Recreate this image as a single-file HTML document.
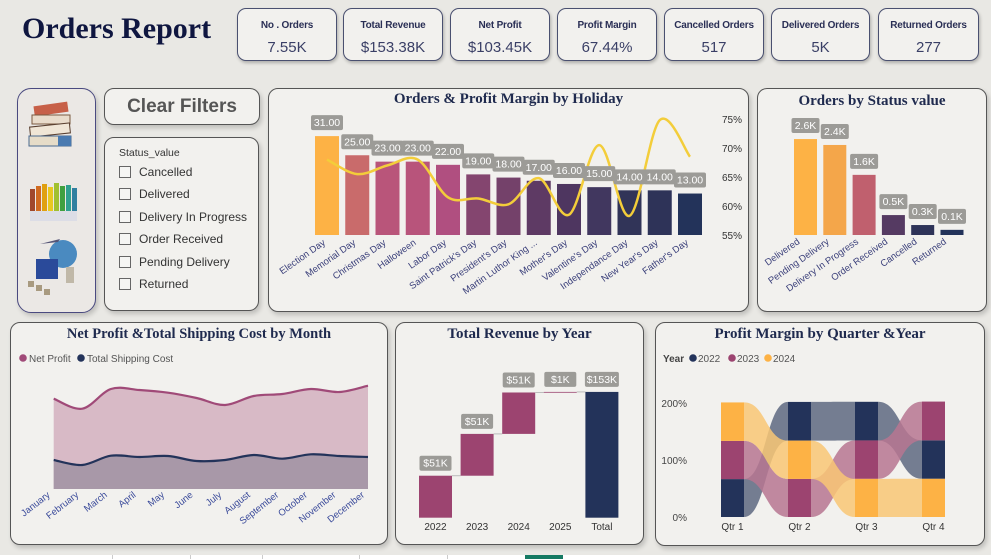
<!DOCTYPE html>
<html><head><meta charset="utf-8">
<style>
*{box-sizing:border-box;margin:0;padding:0}
body{width:991px;height:559px;overflow:hidden;background:#e9e8e4;font-family:"Liberation Sans",sans-serif;position:relative}
.card{position:absolute;background:#f2f1ee;border:1.3px solid #555;border-radius:10px;box-shadow:2px 3px 5px rgba(0,0,0,0.18)}
.kpi{position:absolute;top:8px;height:53px;background:#f2f1ee;border:1.3px solid #4a5070;border-radius:9px;text-align:center;box-shadow:1px 2px 3px rgba(0,0,0,0.25);font-family:"Liberation Sans",sans-serif;color:#2a2f55}
.kpi .t{font-size:10px;font-weight:bold;margin-top:11px;letter-spacing:-0.2px}
.kpi .v{font-size:15px;margin-top:8px;color:#3a3f66}
.title{position:absolute;font-family:"Liberation Serif",serif;font-weight:bold;color:#1f2a4e;font-size:15px;text-align:center}
.slicer-item{position:absolute;left:14px;font-size:12px;color:#333}
.slicer-item span{display:inline-block;width:12px;height:12px;border:1px solid #666;vertical-align:-2px;margin-right:8px;background:#f5f5f3}
#strip{position:absolute;left:0;top:555px;width:991px;height:4px;background:#fff}
</style></head>
<body>
<div style="position:absolute;left:22px;top:12px;font-family:'Liberation Serif',serif;font-weight:bold;font-size:30px;color:#0f1640">Orders Report</div>

<div class="kpi" style="left:237px;width:100px"><div class="t">No . Orders</div><div class="v">7.55K</div></div>
<div class="kpi" style="left:343px;width:100px"><div class="t">Total Revenue</div><div class="v">$153.38K</div></div>
<div class="kpi" style="left:450px;width:100px"><div class="t">Net Profit</div><div class="v">$103.45K</div></div>
<div class="kpi" style="left:557px;width:100px"><div class="t">Profit Margin</div><div class="v">67.44%</div></div>
<div class="kpi" style="left:664px;width:100px"><div class="t">Cancelled Orders</div><div class="v">517</div></div>
<div class="kpi" style="left:771px;width:99px"><div class="t">Delivered Orders</div><div class="v">5K</div></div>
<div class="kpi" style="left:878px;width:101px"><div class="t">Returned Orders</div><div class="v">277</div></div>

<div class="card" style="left:17px;top:88px;width:79px;height:225px;border-color:#4a4a80;border-radius:14px;background:#ebe8e5">
  <svg width="79" height="225">
    <g>
      <rect x="16" y="15" width="34" height="10" fill="#c76048" transform="rotate(-8 33 20)"/>
      <rect x="14" y="26" width="38" height="9" fill="#e9dccb" stroke="#7a5a40"/>
      <rect x="12" y="36" width="40" height="10" fill="#f0e6d6" stroke="#5a4030" transform="rotate(-6 32 41)"/>
      <rect x="11" y="47" width="42" height="10" fill="#e6dcc8" stroke="#4a6a90"/>
      <rect x="40" y="47" width="13" height="10" fill="#4a7ab0"/>
    </g>
    <g>
      <rect x="12" y="100" width="5" height="22" fill="#a0482c"/><rect x="18" y="97" width="5" height="25" fill="#d06a20"/>
      <rect x="24" y="95" width="5" height="27" fill="#e0a010"/><rect x="30" y="98" width="5" height="24" fill="#e8c820"/>
      <rect x="36" y="94" width="5" height="28" fill="#a0c030"/><rect x="42" y="97" width="5" height="25" fill="#40a040"/>
      <rect x="48" y="96" width="5" height="26" fill="#30a090"/><rect x="54" y="99" width="5" height="23" fill="#3080a0"/>
      <rect x="12" y="122" width="47" height="10" fill="#dcdde6"/>
    </g>
    <g>
      <circle cx="45" cy="165" r="14" fill="#4a8ac0"/>
      <path d="M22 155 L42 150 L40 153 Z" fill="#557"/>
      <rect x="18" y="170" width="22" height="20" fill="#2a4a9a"/>
      <rect x="10" y="192" width="6" height="6" fill="#a89a80"/><rect x="18" y="196" width="6" height="6" fill="#a89a80"/><rect x="26" y="200" width="6" height="6" fill="#a89a80"/>
      <rect x="48" y="178" width="8" height="16" fill="#c0b8a8"/>
    </g>
  </svg>
</div>

<div class="card" style="left:104px;top:88px;width:156px;height:37px;text-align:center;font-size:19px;font-weight:bold;color:#555;line-height:35px">Clear Filters</div>

<div class="card" style="left:104px;top:137px;width:155px;height:174px">
  <div style="position:absolute;left:14px;top:9px;font-size:10.5px;color:#333">Status_value</div>
  <div class="slicer-item" style="top:27px"><span></span>Cancelled</div>
  <div class="slicer-item" style="top:49px"><span></span>Delivered</div>
  <div class="slicer-item" style="top:72px"><span></span>Delivery In Progress</div>
  <div class="slicer-item" style="top:94px"><span></span>Order Received</div>
  <div class="slicer-item" style="top:117px"><span></span>Pending Delivery</div>
  <div class="slicer-item" style="top:139px"><span></span>Returned</div>
</div>

<div class="card" style="left:268px;top:88px;width:481px;height:224px"></div>
<div class="title" style="left:268px;top:91px;width:481px">Orders &amp; Profit Margin by Holiday</div>
<div class="card" style="left:757px;top:88px;width:230px;height:224px"></div>
<div class="title" style="left:757px;top:93px;width:230px">Orders by Status value</div>
<div class="card" style="left:10px;top:322px;width:378px;height:223px"></div>
<div class="title" style="left:10px;top:326px;width:378px;font-size:14.5px">Net Profit &amp;Total Shipping Cost by Month</div>
<div class="card" style="left:395px;top:322px;width:249px;height:223px"></div>
<div class="title" style="left:395px;top:326px;width:249px">Total Revenue by Year</div>
<div class="card" style="left:655px;top:322px;width:330px;height:224px"></div>
<div class="title" style="left:655px;top:326px;width:330px">Profit Margin by Quarter &amp;Year</div>

<div id="strip">
  <div style="position:absolute;left:112px;top:0;width:1px;height:4px;background:#ccc"></div>
  <div style="position:absolute;left:190px;top:0;width:1px;height:4px;background:#ccc"></div>
  <div style="position:absolute;left:262px;top:0;width:1px;height:4px;background:#ccc"></div>
  <div style="position:absolute;left:359px;top:0;width:1px;height:4px;background:#ccc"></div>
  <div style="position:absolute;left:447px;top:0;width:1px;height:4px;background:#ccc"></div>
  <div style="position:absolute;left:525px;top:0;width:38px;height:4px;background:#157a63"></div>
</div>

<svg id="charts" width="991" height="559" style="position:absolute;left:0;top:0"></svg>

<script>
// ---- Holiday chart data ----
const holidays = ["Election Day","Memorial Day","Christmas Day","Halloween","Labor Day","Saint Patrick's Day","President's Day","Martin Luthor King ...","Mother's Day","Valentine's Day","Independance Day","New Year's Day","Father's Day"];
const holidayOrders = [31,25,23,23,22,19,18,17,16,15,14,14,13];
const holidayMargin = [68,65.5,67,68,61.5,61.3,60.3,64.8,58.5,70.5,58.3,74.8,68.5];
const marginTicks = [55,60,65,70,75];
// ---- Status chart data ----
const statuses = ["Delivered","Pending Delivery","Delivery In Progress","Order Received","Cancelled","Returned"];
const statusOrders = [2.6,2.44,1.63,0.54,0.27,0.14];
const statusLabels = ["2.6K","2.4K","1.6K","0.5K","0.3K","0.1K"];
// ---- Month chart data ----
const months = ["January","February","March","April","May","June","July","August","September","October","November","December"];
const netProfit = [9.03,8.03,10.0,9.9,9.63,9.1,8.4,9.3,9.5,10.0,9.7,10.33];
const shippingCost = [2.9,2.4,3.33,3.2,3.3,2.8,2.9,3.4,3.03,3.47,3.3,3.2];
// ---- Revenue waterfall data ----
const revYears = ["2022","2023","2024","2025"];
const revValues = [51.2,51.0,50.5,0.7];
const revLabels = ["$51K","$51K","$51K","$1K"];
const revTotalLabel = "$153K";
// ---- Ribbon chart data ----
const quarters = ["Qtr 1","Qtr 2","Qtr 3","Qtr 4"];
const ribbonYears = ["2022","2023","2024"];
const margin2022 = [66.5,67.9,67.8,67.5];
const margin2023 = [67.0,66.8,67.4,68.0];
const margin2024 = [67.5,67.2,66.9,67.0];
const ribbonTicks = [0,100,200];

const NS="http://www.w3.org/2000/svg";
const svg=document.getElementById('charts');
function el(tag,attrs,parent){const e=document.createElementNS(NS,tag);for(const k in attrs)e.setAttribute(k,attrs[k]);(parent||svg).appendChild(e);return e;}
function txt(s,attrs,parent){const t=el('text',attrs,parent);t.textContent=s;return t;}
function smooth(pts){let d="M"+pts[0][0]+" "+pts[0][1];for(let i=0;i<pts.length-1;i++){const p0=pts[i-1]||pts[i],p1=pts[i],p2=pts[i+1],p3=pts[i+2]||p2;const c1x=p1[0]+(p2[0]-p0[0])/6,c1y=p1[1]+(p2[1]-p0[1])/6,c2x=p2[0]-(p3[0]-p1[0])/6,c2y=p2[1]-(p3[1]-p1[1])/6;d+=` C${c1x} ${c1y} ${c2x} ${c2y} ${p2[0]} ${p2[1]}`;}return d;}
function dataLabel(g,cx,topY,label,w){const r=el('rect',{x:cx-w/2,y:topY-18,width:w,height:15,rx:2,fill:'#9c9b97'},g);const t=txt(label,{x:cx,y:topY-7,'text-anchor':'middle','font-size':10.5,fill:'#fff'},g);}

// Holiday chart
(function(){
 const g=el('g',{});
 const x0=327,step=30.25,base=235,ppu=3.19,bw=24;
 const xs=i=>x0+i*step, ys=v=>base-v*ppu;
 const ym=v=>235-(v-55)*(116/20);
 const cols=["#fdb245","#c96b6b","#b9557a","#b8547b","#b04f80","#84456f","#74416a","#5e3a64","#4e3660","#41375f","#313458","#2e3358","#23335a"];
 holidayOrders.forEach((v,i)=>{const r=el('rect',{x:xs(i)-bw/2,y:ys(v),width:bw,height:v*ppu,fill:cols[i%cols.length]},g);
  const l=txt(holidays[i],{x:xs(i)-1,y:244,'text-anchor':'end','font-size':9.5,fill:'#3a3f7a',transform:`rotate(-35 ${xs(i)-1} 244)`},g);});
 const line=el('path',{d:smooth(holidayMargin.map((v,i)=>[xs(i),ym(v)])),fill:'none',stroke:'#f3cd3a','stroke-width':2.5},g);
 holidayOrders.forEach((v,i)=>dataLabel(g,xs(i),ys(v)-3,v.toFixed(2),32));
 marginTicks.forEach(t=>{const l=txt(t+'%',{x:722,y:ym(t)+4,'font-size':10,fill:'#333'},g);});
})();

// Status chart
(function(){
 const g=el('g',{});
 const x0=805.5,step=29.3,base=235,ppu=36.9,bw=23;
 const cols=["#fdb245","#f4a64a","#c0606e","#553a62","#2e3358","#23335a"];
 statusOrders.forEach((v,i)=>{const x=x0+i*step;const r=el('rect',{x:x-bw/2,y:base-v*ppu,width:bw,height:v*ppu,fill:cols[i]},g);
  dataLabel(g,x,base-v*ppu-3,statusLabels[i],28);
  const l=txt(statuses[i],{x:x-5,y:243,'text-anchor':'end','font-size':9.5,fill:'#3a3f7a',transform:`rotate(-35 ${x-5} 243)`},g);});
})();

// Month area chart
(function(){
 const g=el('g',{});
 const x0=53.7,x1=368,base=489,ppu=10;
 const xs=i=>x0+i*(x1-x0)/(months.length-1), ys=v=>base-v*ppu;
 const np=netProfit.map((v,i)=>[xs(i),ys(v)]), sc=shippingCost.map((v,i)=>[xs(i),ys(v)]);
 const a1=el('path',{d:smooth(np)+` L${x1} ${base} L${x0} ${base} Z`,fill:'#d8bac6'},g);
 const a2=el('path',{d:smooth(sc)+` L${x1} ${base} L${x0} ${base} Z`,fill:'#a898a8'},g);
 const l1=el('path',{d:smooth(np),fill:'none',stroke:'#a04a78','stroke-width':2.2},g);
 const l2=el('path',{d:smooth(sc),fill:'none',stroke:'#23335a','stroke-width':2.2},g);
 months.forEach((m,i)=>{const x=xs(i)-3;const t=txt(m,{x:x,y:496,'text-anchor':'end','font-size':9.5,fill:'#3a4a9a',transform:`rotate(-38 ${x} 496)`},g);});
 const lg=el('g',{},g);
 el('circle',{cx:23,cy:358,r:3.8,fill:'#a04a78'},lg);txt('Net Profit',{x:29,y:362,'font-size':10,fill:'#555'},lg);
 el('circle',{cx:81,cy:358,r:3.8,fill:'#23335a'},lg);txt('Total Shipping Cost',{x:87,y:362,'font-size':10,fill:'#555'},lg);
})();

// Revenue waterfall
(function(){
 const g=el('g',{});
 const x0=435.5,step=41.6,base=517.7,ppu=0.82,bw=33;
 let cum=0;
 revValues.forEach((v,i)=>{const x=x0+i*step;const top=base-(cum+v)*ppu,bot=base-cum*ppu;
  const r=el('rect',{x:x-bw/2,y:top,width:bw,height:Math.max(bot-top,0.8),fill:'#9c4470'},g);
  el('line',{x1:x+bw/2,y1:top,x2:x+step-bw/2,y2:top,stroke:'#bbb','stroke-width':1},g);
  dataLabel(g,x,top-2,revLabels[i],32);
  const t=txt(revYears[i],{x:x,y:530,'text-anchor':'middle','font-size':10,fill:'#333'},g);
  cum+=v;});
 const xt=x0+revValues.length*step;
 const r=el('rect',{x:xt-bw/2,y:base-cum*ppu,width:bw,height:cum*ppu,fill:'#23335a'},g);
 dataLabel(g,xt,base-cum*ppu-2,revTotalLabel,34);
 const t=txt('Total',{x:xt,y:530,'text-anchor':'middle','font-size':10,fill:'#333'},g);
})();

// Ribbon chart
(function(){
 const g=el('g',{});
 const series=[margin2022,margin2023,margin2024], cols=['#23335a','#9c4470','#fdb245'], light=['#5e6880','#b77591','#f9c774'];
 const base=517, ppu=114/200, bw=23, x0=732.5, step=67;
 const pos=quarters.map((q,qi)=>{const order=[0,1,2].sort((a,b)=>series[a][qi]-series[b][qi]);const p={};let c=0;order.forEach(s=>{p[s]=[base-(c+series[s][qi])*ppu,base-c*ppu];c+=series[s][qi];});return p;});
 for(let qi=0;qi<quarters.length-1;qi++){[0,1,2].forEach(s=>{const xa=x0+qi*step+bw/2,xb=x0+(qi+1)*step-bw/2,a=pos[qi][s],b=pos[qi+1][s],m=(xa+xb)/2;
  const p=el('path',{d:`M${xa} ${a[0]} C${m} ${a[0]} ${m} ${b[0]} ${xb} ${b[0]} L${xb} ${b[1]} C${m} ${b[1]} ${m} ${a[1]} ${xa} ${a[1]} Z`,fill:light[s],'fill-opacity':0.85},g);});}
 quarters.forEach((q,qi)=>{const x=x0+qi*step;[0,1,2].forEach(s=>{const r=el('rect',{x:x-bw/2,y:pos[qi][s][0],width:bw,height:pos[qi][s][1]-pos[qi][s][0],fill:cols[s]},g);});
  const t=txt(q,{x:x,y:530,'text-anchor':'middle','font-size':10,fill:'#333'},g);});
 ribbonTicks.forEach(v=>{const t=txt(v+'%',{x:687,y:base-v*ppu+4,'text-anchor':'end','font-size':10,fill:'#444'},g);});
 const lg=el('g',{},g);
 txt('Year',{x:663,y:362,'font-size':10,'font-weight':'bold',fill:'#444'},lg);
 [[693,'2022'],[732,'2023'],[768,'2024']].forEach((p,i)=>{el('circle',{cx:p[0],cy:358,r:3.8,fill:cols[i]},lg);txt(p[1],{x:p[0]+5,y:362,'font-size':10,fill:'#555'},lg);});
})();
</script>
</body></html>
